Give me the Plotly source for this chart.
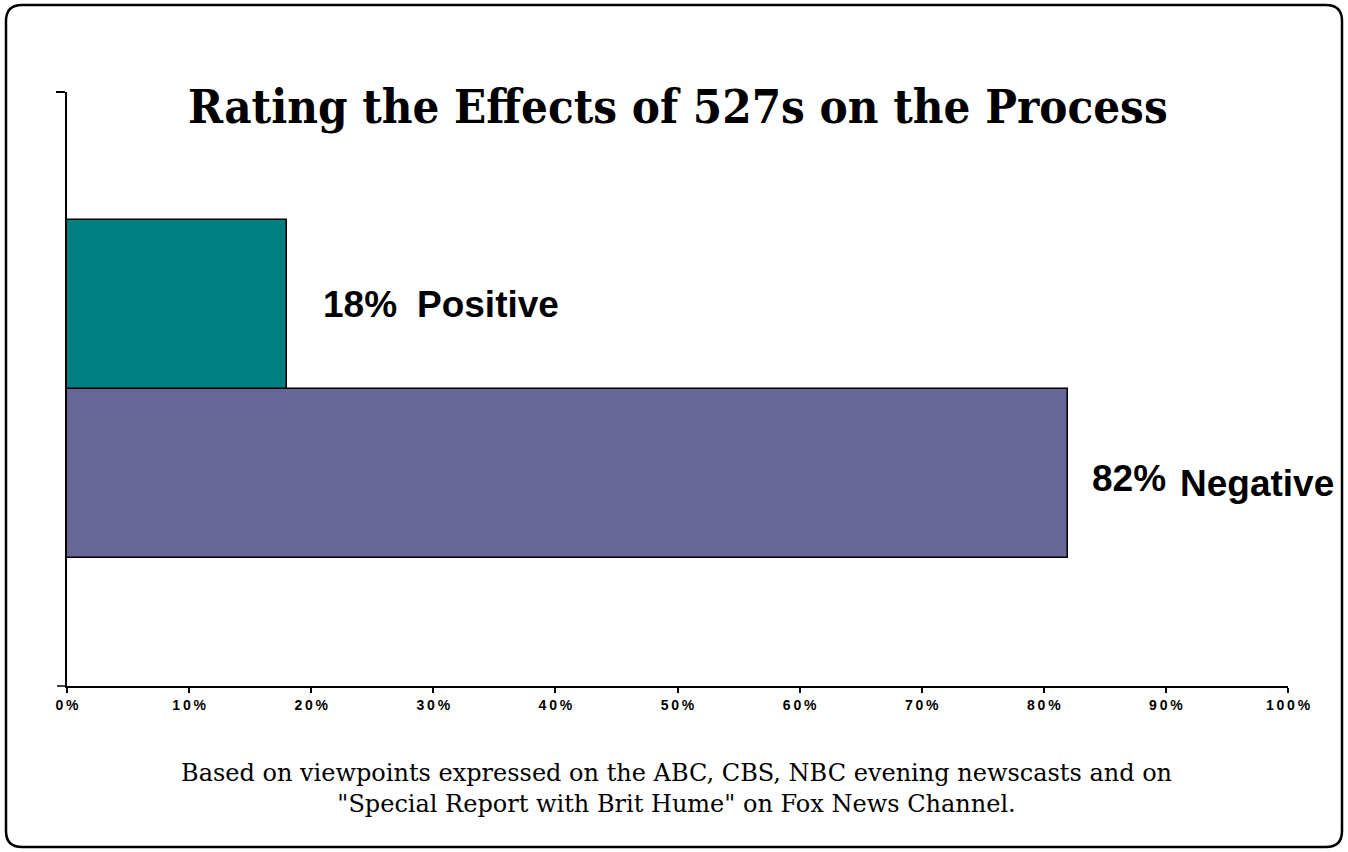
import plotly.graph_objects as go

# Share of viewpoints on the effect of 527 groups
categories = ["Negative", "Positive"]
values = [82, 18]
bar_colors = ["#666699", "#008080"]
pct_labels = ["82%", "18%"]
tick_values = [0, 10, 20, 30, 40, 50, 60, 70, 80, 90, 100]
tick_labels = ["0%", "10%", "20%", "30%", "40%", "50%", "60%", "70%", "80%", "90%", "100%"]

W, H = 1348, 852
L, R, T, B = 67, 60, 92, 166
pw, ph = W - L - R, H - T - B


def px_x(x):
    return (x - L) / pw


def px_y(y):
    return (H - B - y) / ph


ypos = list(range(len(categories)))

fig = go.Figure()
fig.add_trace(go.Bar(
    x=values, y=ypos, orientation="h", width=1,
    marker=dict(color=bar_colors, line=dict(color="black", width=1.5)),
    hoverinfo="skip", showlegend=False,
))

# value and category labels beside each bar: (pct dx, pct dy, name dx, name dy)
label_offsets = [(22, -5, 110, -10), (34, 0, 128, 0)]
lab_font = dict(family="Liberation Sans, Arial", size=37, color="black")
for i, (v, p, c) in enumerate(zip(values, pct_labels, categories)):
    pdx, pdy, ndx, ndy = label_offsets[i]
    fig.add_annotation(x=v, y=ypos[i], text=f"<b>{p}</b>", showarrow=False,
                       xanchor="left", xshift=pdx, yshift=pdy, font=lab_font)
    fig.add_annotation(x=v, y=ypos[i], text=f"<b>{c}</b>", showarrow=False,
                       xanchor="left", xshift=ndx, yshift=ndy, font=lab_font)

fig.add_annotation(x=px_x(678), y=px_y(106), xref="paper", yref="paper",
                   text="<b>Rating the Effects of 527s on the Process</b>", showarrow=False,
                   xanchor="center", yanchor="middle",
                   font=dict(family="DejaVu Serif Condensed, DejaVu Serif", size=47, color="black"))

fig.add_annotation(x=px_x(676), y=px_y(788), xref="paper", yref="paper",
                   text="Based on viewpoints expressed on the ABC, CBS, NBC evening newscasts and on<br>"
                        "\"Special Report with Brit Hume\" on Fox News Channel.",
                   showarrow=False, xanchor="center", yanchor="middle", align="center",
                   font=dict(family="DejaVu Serif", size=24, color="black"))

# rounded frame around the whole chart
x0, x1, y0, y1, r = 6, 1342, 5, 847, 16
pts = (f"M {px_x(x0 + r)},{px_y(y0)} L {px_x(x1 - r)},{px_y(y0)} "
       f"Q {px_x(x1)},{px_y(y0)} {px_x(x1)},{px_y(y0 + r)} "
       f"L {px_x(x1)},{px_y(y1 - r)} Q {px_x(x1)},{px_y(y1)} {px_x(x1 - r)},{px_y(y1)} "
       f"L {px_x(x0 + r)},{px_y(y1)} Q {px_x(x0)},{px_y(y1)} {px_x(x0)},{px_y(y1 - r)} "
       f"L {px_x(x0)},{px_y(y0 + r)} Q {px_x(x0)},{px_y(y0)} {px_x(x0 + r)},{px_y(y0)} Z")
fig.add_shape(type="path", path=pts, xref="paper", yref="paper",
              line=dict(color="black", width=2.5))

# short stub extending the x axis left of the origin
fig.add_shape(type="line", xref="paper", yref="paper", x0=px_x(57), x1=0, y0=0, y1=0,
              line=dict(color="black", width=1.5))

spaced = ["\u2009".join(t) for t in tick_labels]
fig.update_layout(
    width=W, height=H,
    margin=dict(l=L, r=R, t=T, b=B),
    paper_bgcolor="white", plot_bgcolor="white",
    bargap=0,
    xaxis=dict(range=[0, 100], tickvals=tick_values, ticktext=[f"<b>{s}</b>" for s in spaced],
               showgrid=False, zeroline=False, showline=True, linecolor="black", linewidth=1.5,
               ticks="outside", ticklen=5, tickwidth=1.5, tickcolor="black",
               tickfont=dict(family="Liberation Sans, Arial", size=14, color="black")),
    yaxis=dict(range=[-1.26, 2.255], tickvals=[2.255], showticklabels=False,
               showgrid=False, zeroline=False, showline=True, linecolor="black", linewidth=1.5,
               ticks="outside", ticklen=9, tickwidth=1.5, tickcolor="black"),
)

fig.write_html("out.html")
